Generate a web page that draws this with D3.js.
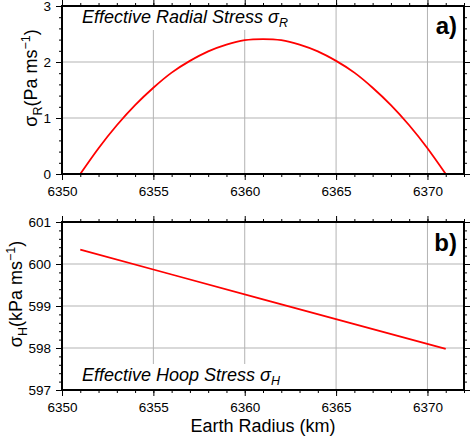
<!DOCTYPE html>
<html><head><meta charset="utf-8">
<script src="https://cdn.jsdelivr.net/npm/d3@7"></script>
<style>body{margin:0;background:#fff}svg{display:block}text{font-family:"Liberation Sans",Arial,Helvetica,sans-serif}</style>
</head><body>
<script>
// ---- data ----
const radius = [6351,6352,6353,6354,6355,6356,6357,6358,6359,6360,6361,6362,6363,6364,6365,6366,6367,6368,6369,6370,6371];
const radialStress = [0,0.46,0.87,1.23,1.54,1.81,2.02,2.19,2.31,2.39,2.41,2.39,2.31,2.19,2.02,1.81,1.54,1.23,0.87,0.46,0];
const hoopRadius = [6351,6356,6361,6366,6371];
const hoopStress = [600.34,599.75,599.16,598.57,597.98];
const xTicks = [6350,6355,6360,6365,6370];
const yTicksA = [0,1,2,3];
const yTicksB = [597,598,599,600,601];
const xDomain = [6350,6372];

const W=472,H=442;
const svg=d3.select("body").append("svg").attr("width",W).attr("height",H);
const L=62,R=464;
const x=d3.scaleLinear().domain(xDomain).range([L,R]);
const xMinor=d3.range(xDomain[0],xDomain[1]+0.001,1);

function panel(cfg){
  const {top,bottom,y,yTicks,minorStep,data,curve,title,sub,titleY,boxY0,boxY1,tag,tagY,ylab,ysub,ylabX,ylabY}=cfg;
  const g=svg.append("g");
  const yd=y.domain();
  const yMinor=d3.range(0,Math.round((yd[1]-yd[0])/minorStep)+1).map(i=>+(yd[0]+i*minorStep).toFixed(3));
  // grid
  g.append("g").selectAll("line").data(xTicks.filter(v=>v>xDomain[0])).join("line")
    .attr("x1",d=>x(d)).attr("x2",d=>x(d)).attr("y1",top).attr("y2",bottom)
    .attr("stroke","#b3b3b3").attr("stroke-width",1);
  g.append("g").selectAll("line").data(yTicks.filter(v=>v>yd[0]&&v<yd[1])).join("line")
    .attr("x1",L).attr("x2",R).attr("y1",d=>y(d)).attr("y2",d=>y(d))
    .attr("stroke","#b3b3b3").attr("stroke-width",1);
  // title white box
  g.append("rect").attr("x",L+1).attr("y",boxY0).attr("width",220).attr("height",boxY1-boxY0).attr("fill","#fff");
  // data
  g.append("path").datum(data).attr("fill","none").attr("stroke","#ff0000").attr("stroke-width",1.8)
    .attr("d",d3.line().x(d=>x(d[0])).y(d=>y(d[1])).curve(curve));
  // axes
  const tf=g=>{g.select(".domain").remove();g.selectAll("text").attr("font-size",13.5).attr("fill","#000");g.selectAll("line").attr("stroke","#000").attr("stroke-width",1);};
  g.append("g").attr("transform",`translate(0,${bottom})`).call(d3.axisBottom(x).tickValues(xTicks).tickSize(6).tickPadding(6).tickFormat(d3.format("d"))).call(tf);
  g.append("g").attr("transform",`translate(0,${bottom})`).call(d3.axisBottom(x).tickValues(xMinor).tickSize(3).tickFormat("")).call(tf);
  g.append("g").attr("transform",`translate(0,${top})`).call(d3.axisTop(x).tickValues(xTicks).tickSize(6).tickFormat("")).call(tf);
  g.append("g").attr("transform",`translate(0,${top})`).call(d3.axisTop(x).tickValues(xMinor).tickSize(3).tickFormat("")).call(tf);
  g.append("g").attr("transform",`translate(${L},0)`).call(d3.axisLeft(y).tickValues(yTicks).tickSize(6).tickPadding(5).tickFormat(d3.format("d"))).call(tf);
  g.append("g").attr("transform",`translate(${L},0)`).call(d3.axisLeft(y).tickValues(yMinor).tickSize(3).tickFormat("")).call(tf);
  g.append("g").attr("transform",`translate(${R},0)`).call(d3.axisRight(y).tickValues(yTicks).tickSize(6).tickFormat("")).call(tf);
  g.append("g").attr("transform",`translate(${R},0)`).call(d3.axisRight(y).tickValues(yMinor).tickSize(3).tickFormat("")).call(tf);
  // frame
  g.append("rect").attr("x",L).attr("y",top).attr("width",R-L).attr("height",bottom-top)
    .attr("fill","none").attr("stroke","#000").attr("stroke-width",2);
  // title
  const t=g.append("text").attr("x",82).attr("y",titleY).attr("font-size",18).attr("font-style","italic").text(title);
  t.append("tspan").attr("font-size",12.5).attr("dy",4).text(sub);
  // tag
  g.append("text").attr("x",457).attr("y",tagY).attr("text-anchor","end").attr("font-size",24).attr("font-weight","bold").text(tag);
  // y label
  const yl=g.append("text").attr("transform",`translate(${ylabX},${ylabY}) rotate(-90)`).attr("text-anchor","middle").attr("font-size",18);
  yl.append("tspan").text("σ");
  yl.append("tspan").attr("font-size",12.5).attr("dy",5).text(ysub);
  yl.append("tspan").attr("dy",-5).text(ylab[0]);
  yl.append("tspan").attr("font-size",12.5).attr("dy",-7).text("−1");
  yl.append("tspan").attr("dy",7).text(")");
}

panel({top:6,bottom:174,y:d3.scaleLinear().domain([0,3]).range([174,6]),yTicks:yTicksA,minorStep:0.2,
  data:radius.map((r,i)=>[r,radialStress[i]]),curve:d3.curveNatural,
  title:"Effective Radial Stress σ",sub:"R",titleY:23,boxY0:7,boxY1:30,tag:"a)",tagY:34,
  ylab:["(Pa ms"],ysub:"R",ylabX:37,ylabY:78});
panel({top:222,bottom:390,y:d3.scaleLinear().domain([597,601]).range([390,222]),yTicks:yTicksB,minorStep:0.2,
  data:hoopRadius.map((r,i)=>[r,hoopStress[i]]),curve:d3.curveLinear,
  title:"Effective Hoop Stress σ",sub:"H",titleY:381,boxY0:364,boxY1:389,tag:"b)",tagY:251,
  ylab:["(kPa ms"],ysub:"H",ylabX:22,ylabY:294});

svg.append("text").attr("x",(L+R)/2).attr("y",432).attr("text-anchor","middle").attr("font-size",18).text("Earth Radius (km)");
</script>
</body></html>
